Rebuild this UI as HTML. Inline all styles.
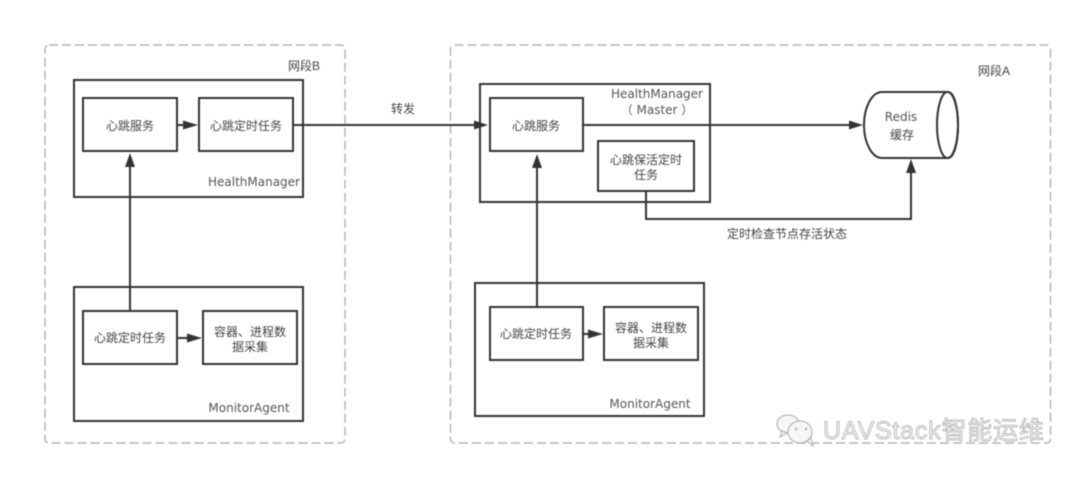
<!DOCTYPE html>
<html>
<head>
<meta charset="utf-8">
<style>
html,body{margin:0;padding:0;background:#fff;width:1080px;height:477px;overflow:hidden}
svg{display:block;filter:blur(.5px)}
text{font-family:"Liberation Sans","Noto Sans CJK SC",sans-serif;font-size:12px;fill:#444}
.m{text-anchor:middle}
.n{font-family:"DejaVu Sans","Noto Sans CJK SC",sans-serif;fill:#555}
.b{fill:#fff;stroke:#333;stroke-width:2}
.l{fill:none;stroke:#333;stroke-width:2}
.d{fill:none;stroke:#b5b5b5;stroke-width:1.5;stroke-dasharray:9 4}
.a{fill:#333}
.w{font-size:25px;letter-spacing:.8px;fill:#f4f4f4;stroke:#aaa;stroke-width:.7}
</style>
</head>
<body>
<svg width="1080" height="477" viewBox="0 0 1080 477" xmlns="http://www.w3.org/2000/svg">
<rect width="1080" height="477" fill="#fff"/>
<rect class="d" x="45" y="45" width="300" height="398" rx="4"/>
<rect class="d" x="450.500" y="45" width="600" height="398" rx="4"/>
<text class="m" x="304" y="70">网段B</text>
<text class="m" x="994" y="75">网段A</text>

<rect class="b" x="74" y="80" width="229" height="117"/>
<rect class="b" x="83" y="98" width="94" height="53"/>
<rect class="b" x="199" y="98" width="94" height="53"/>
<text class="m" x="130" y="130">心跳服务</text>
<text class="m" x="246" y="130">心跳定时任务</text>
<text class="m n" x="254" y="186">HealthManager</text>

<rect class="b" x="74" y="287" width="229" height="134"/>
<rect class="b" x="83" y="311" width="94" height="53"/>
<rect class="b" x="203" y="311" width="94" height="53"/>
<text class="m" x="130" y="342">心跳定时任务</text>
<text class="m" x="250" y="336">容器、进程数</text>
<text class="m" x="250" y="351">据采集</text>
<text class="m n" x="249" y="412">MonitorAgent</text>

<path class="l" d="M130 311V160"/>
<path class="a" d="M130 153l-5 14h10z"/>
<path class="l" d="M177 125h10"/>
<path class="a" d="M198 125l-15-4.500v9z"/>
<path class="l" d="M177 338h14"/>
<path class="a" d="M202 338l-15-4.500v9z"/>

<rect class="b" x="480" y="84" width="230" height="118"/>
<rect class="b" x="490" y="98" width="93" height="53"/>
<rect class="b" x="598" y="141" width="96" height="50"/>
<text class="m n" x="657" y="98">HealthManager</text>
<text class="m n" x="657" y="114">（ Master ）</text>
<text class="m" x="536" y="130">心跳服务</text>
<text class="m" x="646" y="164">心跳保活定时</text>
<text class="m" x="646" y="179">任务</text>

<rect class="b" x="475" y="283" width="229" height="133"/>
<rect class="b" x="490" y="307" width="93" height="53"/>
<rect class="b" x="604" y="307" width="94" height="53"/>
<text class="m" x="536" y="338">心跳定时任务</text>
<text class="m" x="651" y="332">容器、进程数</text>
<text class="m" x="651" y="347">据采集</text>
<text class="m n" x="650" y="408">MonitorAgent</text>

<path class="l" d="M537 307V160"/>
<path class="a" d="M537 154l-5 14h10z"/>
<path class="l" d="M583 334h12"/>
<path class="a" d="M603 334l-15-4.500v9z"/>
<path class="l" d="M293 125H480"/>
<path class="a" d="M488 125l-14-4.500v9z"/>
<path class="l" d="M583 125H856"/>
<path class="a" d="M863 125l-14-4.500v9z"/>
<path class="l" d="M646 191V219H911V166"/>
<path class="a" d="M911 159l-5 14h10z"/>
<text class="m" x="403" y="113">转发</text>
<text class="m" x="787" y="238">定时检查节点存活状态</text>

<path class="b" d="M882 92H948C954 92 958 107 958 125C958 143 954 158 948 158H882C872 158 864 143 864 125C864 107 872 92 882 92Z"/>
<ellipse class="l" cx="947.500" cy="125" rx="10.500" ry="33"/>
<text class="m n" x="901" y="121">Redis</text>
<text class="m" x="902" y="139">缓存</text>

<g fill="#f6f6f6" stroke="#aaa" stroke-width="1">
<ellipse cx="788" cy="424" rx="11" ry="9"/>
<path d="M782 431l-2 6 7-4z"/>
<ellipse cx="800" cy="432" rx="12" ry="11"/>
<path d="M807 441l6 5-2-8z"/>
</g>
<circle cx="796" cy="429" r="1.200" fill="#aaa"/>
<circle cx="806" cy="429" r="1.200" fill="#aaa"/>
<text class="w" x="823" y="439">UAVStack智能运维</text>
</svg>
</body>
</html>
